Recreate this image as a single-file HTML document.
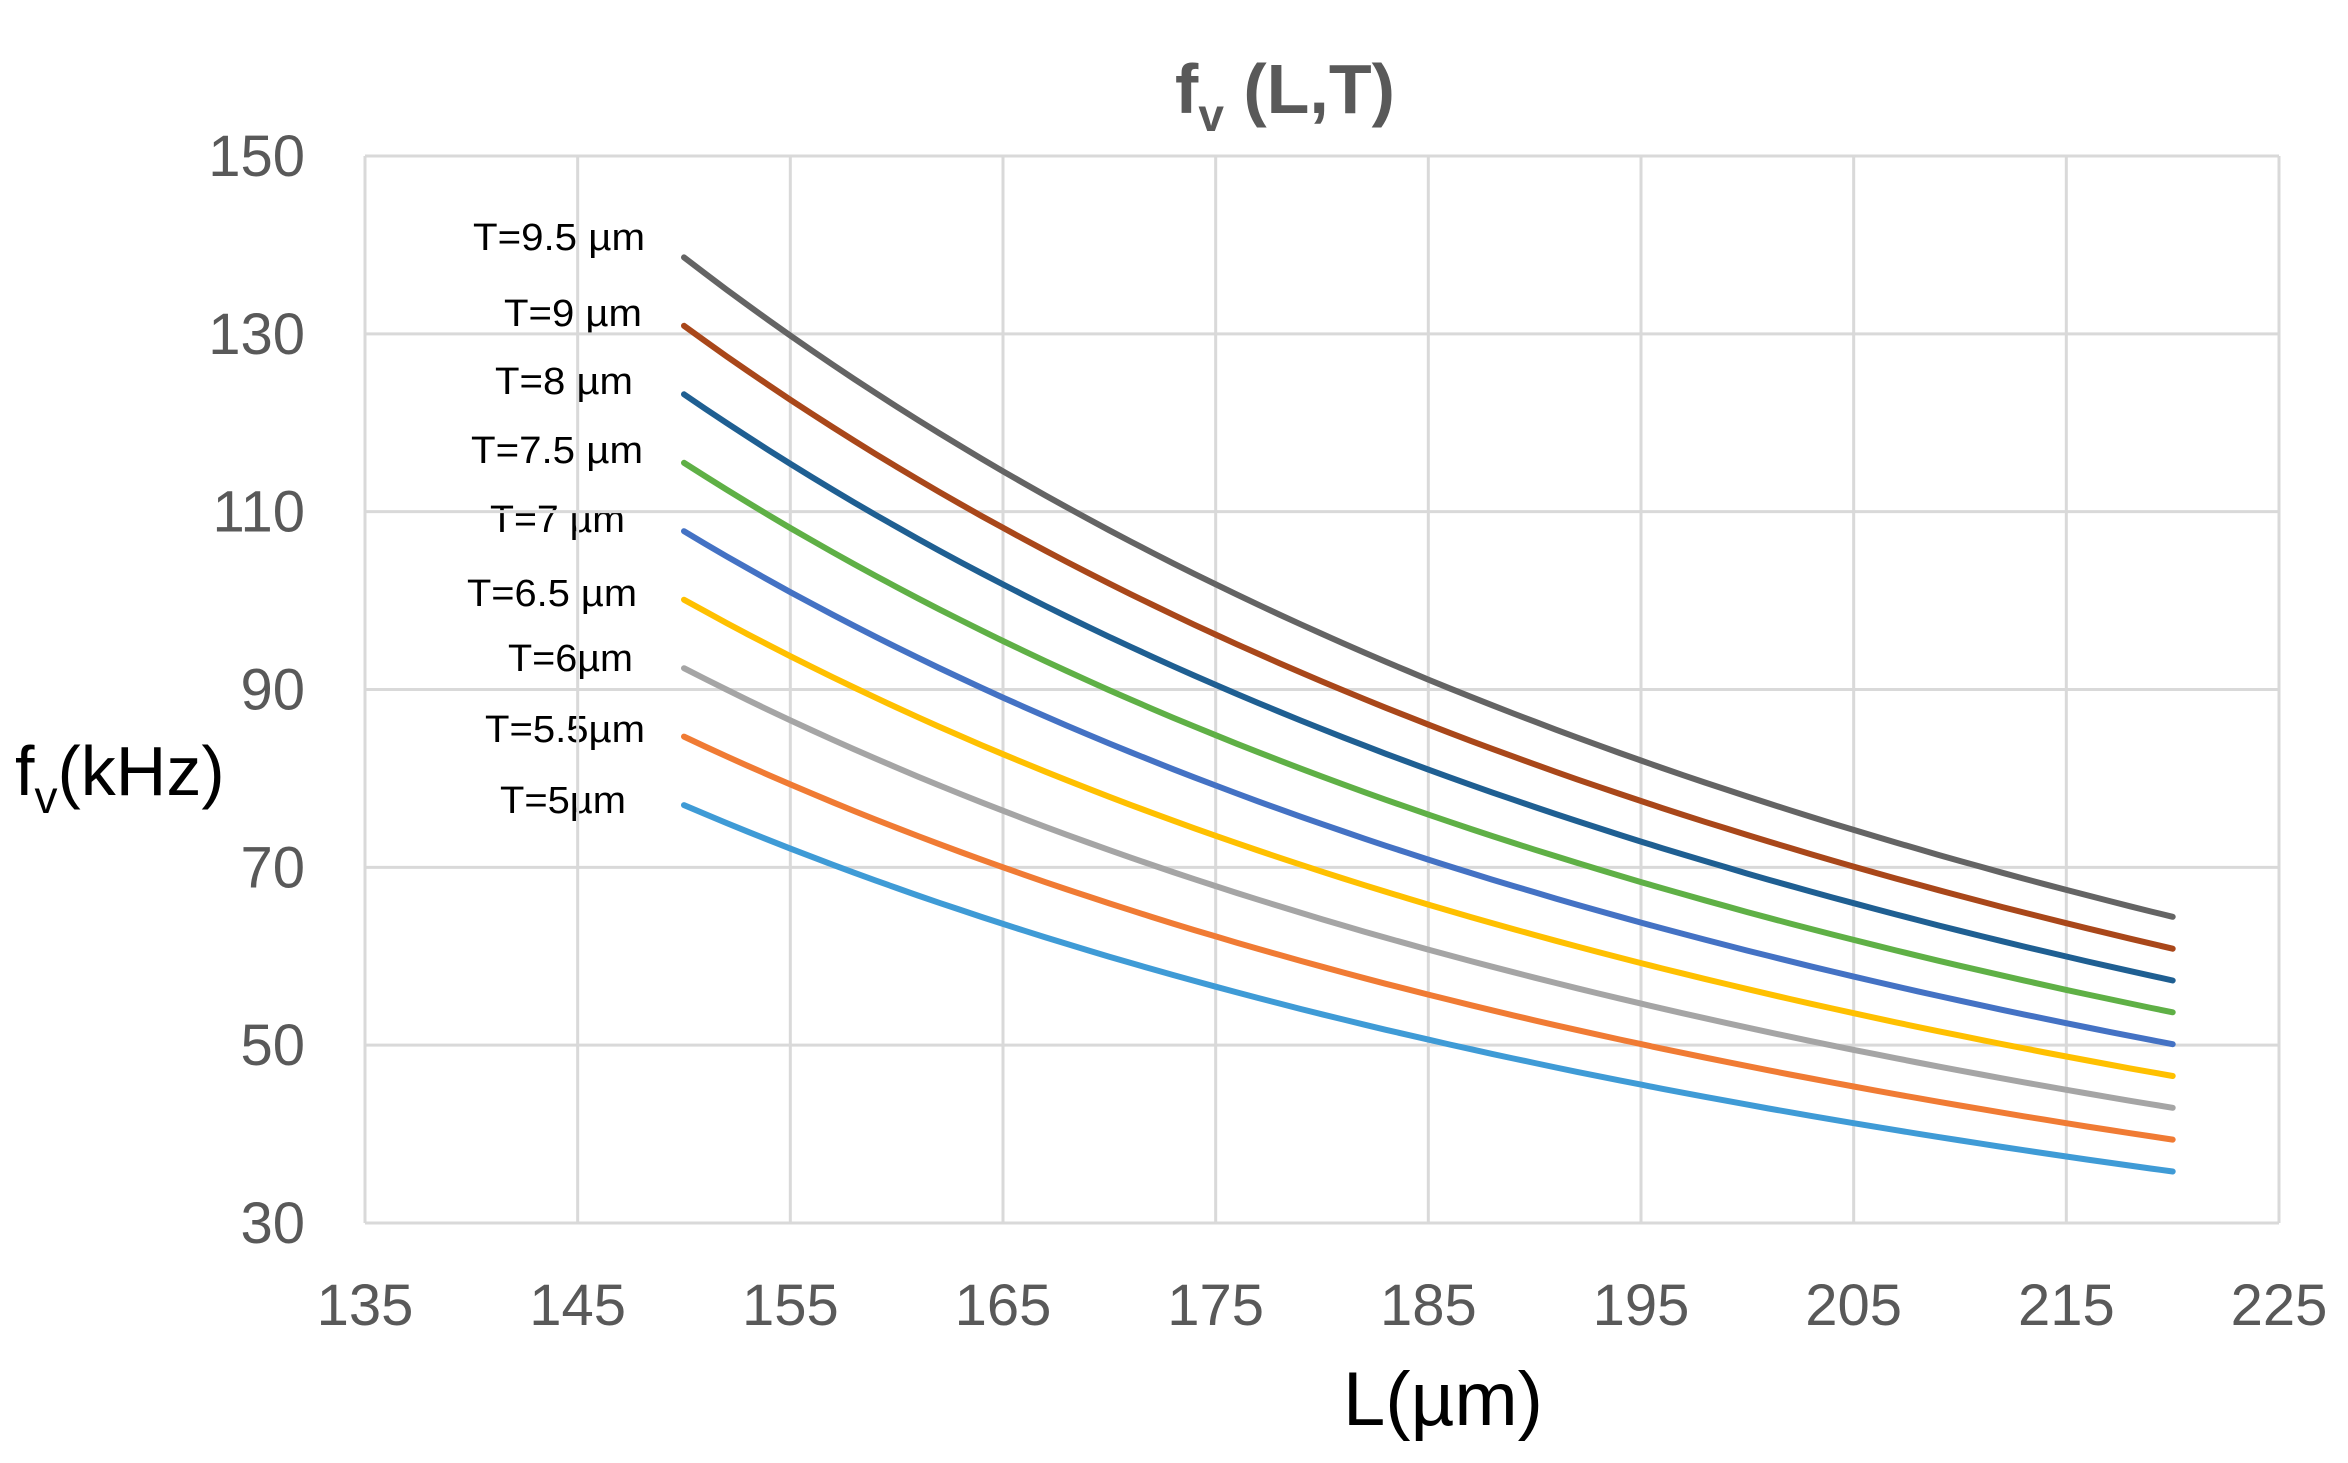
<!DOCTYPE html>
<html><head><meta charset="utf-8">
<style>html,body{margin:0;padding:0;background:#fff;}svg{display:block}</style>
</head><body>
<svg id="s" width="2348" height="1463" xmlns="http://www.w3.org/2000/svg" font-family="Liberation Sans, sans-serif">
<rect width="2348" height="1463" fill="#fff"/>
<g id="labels" font-size="38" fill="#000" text-anchor="end">
<text x="645" y="250" textLength="172" lengthAdjust="spacingAndGlyphs">T=9.5 µm</text>
<text x="642" y="326" textLength="138" lengthAdjust="spacingAndGlyphs">T=9 µm</text>
<text x="633" y="394" textLength="138" lengthAdjust="spacingAndGlyphs">T=8 µm</text>
<text x="643" y="463" textLength="172" lengthAdjust="spacingAndGlyphs">T=7.5 µm</text>
<text x="625" y="532" textLength="135" lengthAdjust="spacingAndGlyphs">T=7 µm</text>
<text x="637" y="606" textLength="170" lengthAdjust="spacingAndGlyphs">T=6.5 µm</text>
<text x="633" y="671" textLength="125" lengthAdjust="spacingAndGlyphs">T=6µm</text>
<text x="645" y="742" textLength="160" lengthAdjust="spacingAndGlyphs">T=5.5µm</text>
<text x="626" y="813" textLength="126" lengthAdjust="spacingAndGlyphs">T=5µm</text>
</g>
<g id="grid" stroke="#d9d9d9" stroke-width="3" fill="none"></g>
<g id="series" fill="none" stroke-width="6" stroke-linecap="round"></g>
<g id="yt" font-size="58" fill="#595959" text-anchor="end"></g>
<g id="xt" font-size="58" fill="#595959" text-anchor="middle"></g>
<text x="1175" y="113" font-size="70" font-weight="bold" fill="#595959">f<tspan font-size="46" dy="18">v</tspan><tspan dy="-18"> (L,T)</tspan></text>
<text x="1443" y="1425" font-size="76" fill="#000" text-anchor="middle">L(µm)</text>
<text x="15" y="795" font-size="70" fill="#000">f<tspan font-size="46" dy="18">v</tspan><tspan dy="-18">(kHz)</tspan></text>
</svg>
<script>
var NS="http://www.w3.org/2000/svg";
var X0=365,X1=2279,Y0=156,Y1=1223;
function px(L){return X0+(L-135)*(X1-X0)/90;}
function py(f){return Y1-(f-30)*(Y1-Y0)/120;}
var g=document.getElementById('grid');
function el(p,tag,a){var e=document.createElementNS(NS,tag);for(var k in a)e.setAttribute(k,a[k]);p.appendChild(e);return e;}
for(var v=30;v<=150;v+=20){el(g,'line',{x1:X0,x2:X1,y1:py(v),y2:py(v)});
 var t=el(document.getElementById('yt'),'text',{x:305,y:py(v)+20});t.textContent=v;}
for(var L=135;L<=225;L+=10){el(g,'line',{x1:px(L),x2:px(L),y1:Y0,y2:Y1});
 var t=el(document.getElementById('xt'),'text',{x:px(L),y:1325});t.textContent=L;}
var cols=["#3f9bd6","#f07b34","#a5a5a5","#ffc000","#4472c4","#5fb046","#1f5f92","#a9471a","#646464"];
var s=document.getElementById('series');
for(var i=0;i<9;i++){var T=5+0.5*i,d="";
 for(var L=150;L<=220.01;L+=1){var f=15.4*T*22500/(L*L);d+=(L==150?"M":"L")+px(L).toFixed(1)+","+py(f).toFixed(1);}
 el(s,'path',{d:d,stroke:cols[i]});}
</script>
</body></html>
